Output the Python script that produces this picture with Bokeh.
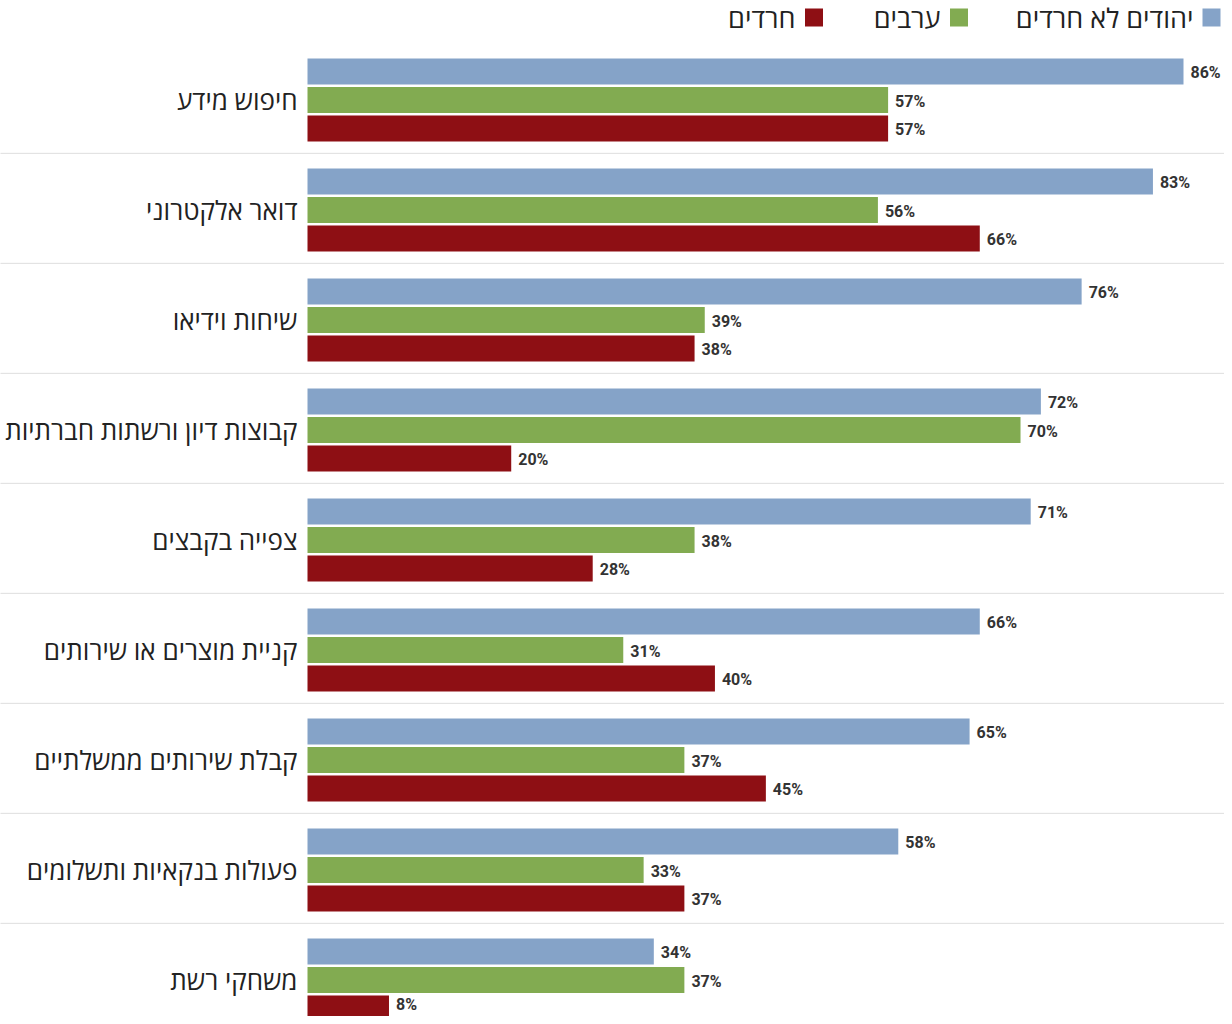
from bokeh.plotting import figure
from bokeh.models import Range1d
from bokeh.core.properties import value
from bokeh.embed import file_html
from bokeh.resources import INLINE

categories = ["חיפוש מידע", "דואר אלקטרוני", "שיחות וידיאו",
              "קבוצות דיון ורשתות חברתיות", "צפייה בקבצים",
              "קניית מוצרים או שירותים", "קבלת שירותים ממשלתיים",
              "פעולות בנקאיות ותשלומים", "משחקי רשת"]
series_names = ["יהודים לא חרדים", "ערבים", "חרדים"]
jews_non_haredi = [86, 83, 76, 72, 71, 66, 65, 58, 34]
arabs = [57, 56, 39, 70, 38, 31, 37, 33, 37]
haredim = [57, 66, 38, 20, 28, 40, 45, 37, 8]
series_values = [jews_non_haredi, arabs, haredim]
colors = ["#85A3C8", "#82AB51", "#8E0F14"]

# layout helpers (page pixel -> data)
K = 10.186
X0 = 315
GP = 110.0
C0 = 107.5
def vx(px):
    return (px - X0) / K
def gy(py):
    return (py - C0) / GP

p = figure(width=1224, height=1016,
           x_range=Range1d(vx(8), vx(1232)),
           y_range=Range1d(gy(1024), gy(8)),
           output_backend="svg", toolbar_location=None,
           x_axis_location=None, y_axis_location=None,
           min_border=0, outline_line_color=None)
p.grid.visible = False
p.background_fill_color = "white"

idx = list(range(len(categories)))
offsets = [-28.5 / GP, 0.0, 28.5 / GP]
bar_h = 26 / GP

# separators
for i in range(len(categories) - 1):
    p.segment(x0=[vx(7)], x1=[vx(1232)], y0=[i + 0.485], y1=[i + 0.485],
              line_color="#bdbdbd", line_width=1, line_dash="1 1")

for s, (vals, off, col) in enumerate(zip(series_values, offsets, colors)):
    ys = [i + off for i in idx]
    p.hbar(y=ys, left=0, right=vals, height=bar_h, fill_color=col, line_color=None)
    yoffs = [1] * len(vals)
    if s == 2:
        yoffs[-1] = -4  # keep the bottom-most label inside the canvas
    p.text(x=vals, y=ys, text=[f"{v}%" for v in vals], x_offset=7, y_offset=yoffs,
           text_align="left", text_baseline="middle",
           text_font=value("Roboto"), text_font_style="bold",
           text_font_size="16px", text_color="#333333")

p.text(x=[vx(305)] * len(categories), y=idx, text=categories,
       text_align="right", text_baseline="middle",
       text_font=value("Open Sans"), text_font_size="26px", text_color="#222222")

# legend
leg_sq_x = [1219, 966.5, 821.5]
leg_tx_x = [1201, 948, 803]
ly = gy(25)
p.scatter(x=[vx(v) for v in leg_sq_x], y=[ly] * 3, marker="square", size=18,
          fill_color=colors, line_color=None)
p.text(x=[vx(v) for v in leg_tx_x], y=[ly] * 3, text=series_names,
       text_align="right", text_baseline="middle",
       text_font=value("Open Sans"), text_font_size="27px", text_color="#222222")

open("out.html", "w").write(file_html(p, INLINE))
